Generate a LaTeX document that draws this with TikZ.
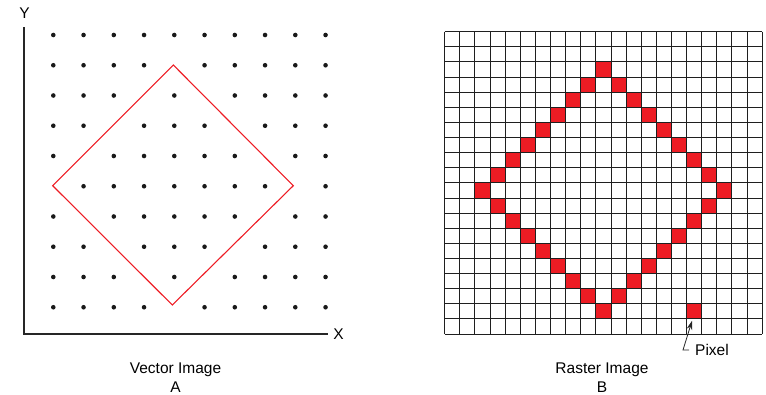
\documentclass[tikz,border=0pt]{standalone}
\usepackage{fontspec}
\setmainfont{Liberation Sans}
\usepackage{tikz}
\usetikzlibrary{arrows.meta}
\definecolor{PixelRed}{RGB}{237,28,36}
\colorlet{GridLine}{black!88}
\colorlet{InkLine}{black!85}

\begin{document}
\begin{tikzpicture}[
    x=1pt, y=-1pt,
    axisline/.style={line width=1.1pt, draw=InkLine},
    axislabel/.style={font=\fontsize{15.5}{18.4}\selectfont, inner sep=0pt},
    caption/.style={font=\fontsize{15.5}{18.4}\selectfont, align=center,
        inner sep=0pt},
    dot/.style={circle, fill=black!90, inner sep=0pt, minimum size=4.6pt},
    outline/.style={draw=PixelRed, line width=1.1pt, line join=miter},
    pixel/.style={fill=PixelRed, inner sep=0pt, minimum size=15.12pt,
        anchor=north west},
    gridline/.style={draw=GridLine, line width=1pt},
    pointer/.style={-{Stealth[length=9pt, width=5.5pt]}, line width=0.8pt,
        InkLine}
]
\useasboundingbox (0,0) rectangle (766,395);

% --- Vector image ---
\coordinate (origin) at (24,334);
\coordinate (ytop) at (24,27.3);
\coordinate (xend) at (328,334);
\draw[axisline] (ytop) -- (origin) -- (xend);
\node[axislabel] (ylabel) at (24.5,13.5) {Y};
\node[axislabel] (xlabel) at (338.5,334.5) {X};

% dots, skipping those on the outline
\foreach \c in {0,...,9} {
    \foreach \r in {0,...,9} {
        \pgfmathtruncatemacro{\d}{abs(\c-4)+abs(\r-5)}
        \ifnum\d=4\else
            \node[dot] at (53.3+30.25*\c, 35+30.25*\r) {};
        \fi
    }
}
\draw[outline] (52.7,185.7) -- (173.3,65) -- (293.3,185.7)
    -- (172.3,305) -- cycle;

\node[caption] (capA) at (175.5,377.5) {Vector Image\\A};

% --- Raster image ---
\foreach \c in {0,...,20} {
    \foreach \r in {0,...,19} {
        \pgfmathtruncatemacro{\d}{abs(\c-10)+abs(\r-10)}
        \ifnum\d=8
            \fill[PixelRed] (444.7+15.12*\c, 31.7+15.12*\r)
                rectangle ++(15.12,15.12);
        \fi
    }
}
\node[pixel] (pixel) at (444.7+15.12*16, 31.7+15.12*18) {};

% grid lines
\foreach \i in {0,...,21} {
    \draw[gridline] (444.7+15.12*\i, 31.7) -- ++(0,302.4);
}
\foreach \j in {0,...,20} {
    \draw[gridline] (444.7, 31.7+15.12*\j) -- ++(317.52,0);
}

\node[axislabel, anchor=west] (pixlabel) at (695,350) {Pixel};
\draw[pointer] ([xshift=-6pt]pixlabel.west) -- ++(-6,0)
    -- ([xshift=5.4pt, yshift=-1.4pt]pixel.south west);

\node[caption] (capB) at (602,377.5) {Raster Image\\B};

\end{tikzpicture}
\end{document}
